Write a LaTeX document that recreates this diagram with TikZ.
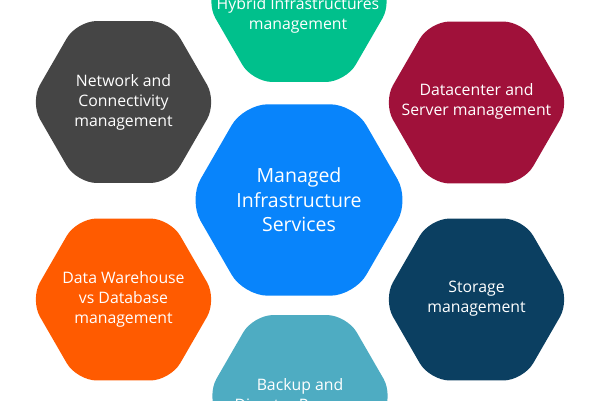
\documentclass[tikz,border=0pt]{standalone}
\usepackage{fontspec}
\setmainfont{Open Sans}
\usetikzlibrary{shapes.geometric}
\definecolor{hgreen}{HTML}{00C08C}
\definecolor{hgray}{HTML}{454545}
\definecolor{hcrimson}{HTML}{A0113A}
\definecolor{hblue}{HTML}{0884FB}
\definecolor{horange}{HTML}{FF5B00}
\definecolor{hnavy}{HTML}{0B3F61}
\definecolor{hteal}{HTML}{4EACC2}
\tikzset{
  hexbase/.style={regular polygon, regular polygon sides=6, inner sep=0pt},
  hexsmall/.style={hexbase, minimum size=187pt, rounded corners=20pt},
  hexbig/.style={hexbase, minimum size=221pt, rounded corners=24pt},
  hextext/.style={text=white, align=center, inner sep=0pt,
    font=\fontsize{15.8}{20}\selectfont},
  bigtext/.style={text=white, align=center, inner sep=0pt,
    font=\fontsize{19.5}{24.5}\selectfont}
}
\begin{document}
\begin{tikzpicture}[x=1pt,y=-1pt]
\useasboundingbox (0,0) rectangle (600,400);
\clip (0,0) rectangle (600,400);
\node[hexsmall, fill=hgreen] (hybrid) at (299,1) {};
\node[hexsmall, fill=hgray] (network) at (123.5,102) {};
\node[hexsmall, fill=hcrimson] (datacenter) at (476.5,102.5) {};
\node[hexbig, fill=hblue] (center) at (299,200) {};
\node[hexsmall, fill=horange] (warehouse) at (123.5,299.5) {};
\node[hexsmall, fill=hnavy] (storage) at (476.5,299.5) {};
\node[hexsmall, fill=hteal] (backup) at (300,396) {};
\node[hextext] (hybridtext) at (298,15) {Hybrid Infrastructures\\management};
\node[hextext] (networktext) at (network.center) {Network and\\Connectivity\\management};
\node[hextext] (datacentertext) at (476.5,101) {Datacenter and\\Server management};
\node[bigtext] (centertext) at (center.center) {Managed\\Infrastructure\\Services};
\node[hextext] (warehousetext) at (warehouse.center) {Data Warehouse\\vs Database\\management};
\node[hextext] (storagetext) at (476.5,299) {Storage\\management};
\node[hextext] (backuptext) at (backup.center) {Backup and\\Disaster Recovery};
\end{tikzpicture}
\end{document}
